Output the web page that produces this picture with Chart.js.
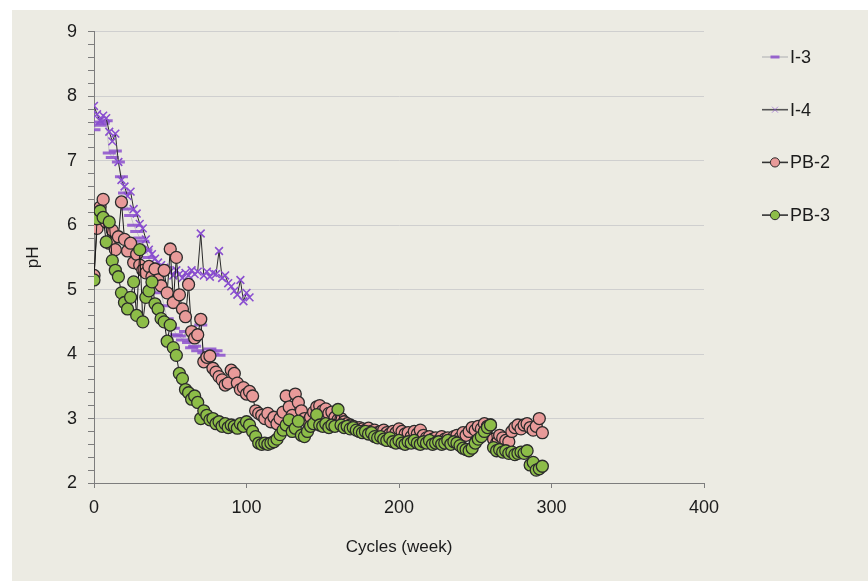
<!DOCTYPE html>
<html>
<head>
<meta charset="utf-8">
<title>pH vs cycles</title>
<script src="https://cdn.jsdelivr.net/npm/chart.js"></script>
<style>
    html, body { margin: 0; padding: 0; background: #ffffff; }
    #wrap { position: absolute; left: 12px; top: 10px; width: 856px; height: 571px; background: #ecebe3; }
</style>
</head>
<body>
<div id="wrap"><canvas id="ph-chart"></canvas></div>
<script>

const i3_weeks = [ 0, 2, 4, 6, 8, 10, 12, 14, 16, 18, 20, 22, 24, 26, 28, 30, 32, 34, 36, 38,
    40, 42, 44, 46, 48, 50, 52, 54, 56, 58, 60, 62, 64, 66, 68, 70, 72, 74, 76, 78, 80, 82 ];
const i3_ph = [ 7.48, 7.60, 7.55, 7.58, 7.62, 7.12, 7.05, 7.15, 6.98, 6.75,
    6.50, 6.25, 6.15, 6.00, 5.90, 5.80, 5.75, 5.62, 5.50, 5.40,
    5.20, 5.05, 4.95, 4.75, 4.55, 4.45, 4.40, 4.30, 4.28, 4.22,
    4.35, 4.18, 4.10, 4.12, 4.05, 4.45, 4.02, 3.98, 4.08, 4.00,
    4.05, 3.98 ];

const i4_weeks = [ 0, 2, 4, 6, 8, 10, 12, 14, 16, 18, 20, 22, 24, 26, 28, 30, 32, 34, 36, 38,
    40, 42, 44, 46, 48, 50, 52, 54, 56, 58, 60, 62, 64, 66, 68, 70, 72, 74, 76, 78,
    80, 82, 84, 86, 88, 90, 92, 94, 96, 98, 100, 102 ];
const i4_ph = [ 7.85, 7.72, 7.62, 7.70, 7.66, 7.45, 7.30, 7.42, 6.98, 6.70,
    6.60, 6.45, 6.52, 6.25, 6.18, 6.02, 5.95, 5.78, 5.62, 5.55,
    5.48, 5.42, 5.38, 5.34, 5.30, 5.28, 5.22, 5.30, 5.24, 5.18,
    5.26, 5.22, 5.30, 5.24, 5.28, 5.87, 5.22, 5.28, 5.20, 5.26,
    5.24, 5.60, 5.18, 5.22, 5.10, 5.05, 4.98, 4.92, 5.15, 4.82,
    4.95, 4.88 ];

const pb_weeks = [ 0, 2, 4, 6, 8, 10, 12, 14, 16, 18, 20, 22, 24, 26, 28, 30, 32, 34, 36, 38,
    40, 42, 44, 46, 48, 50, 52, 54, 56, 58, 60, 62, 64, 66, 68, 70, 72, 74, 76, 78,
    80, 82, 84, 86, 88, 90, 92, 94, 96, 98, 100, 102, 104, 106, 108, 110, 112, 114, 116, 118,
    120, 122, 124, 126, 128, 130, 132, 134, 136, 138, 140, 142, 144, 146, 148, 150, 152, 154, 156, 158,
    160, 162, 164, 166, 168, 170, 172, 174, 176, 178, 180, 182, 184, 186, 188, 190, 192, 194, 196, 198,
    200, 202, 204, 206, 208, 210, 212, 214, 216, 218, 220, 222, 224, 226, 228, 230, 232, 234, 236, 238,
    240, 242, 244, 246, 248, 250, 252, 254, 256, 258, 260, 262, 264, 266, 268, 270, 272, 274, 276, 278,
    280, 282, 284, 286, 288, 290, 292, 294 ];

const pb2_ph = [ 5.22, 5.95, 6.28, 6.40, 6.05, 5.72, 5.92, 5.62, 5.82, 6.36,
    5.78, 5.60, 5.72, 5.42, 5.55, 5.38, 5.30, 5.26, 5.36, 5.20,
    5.32, 5.15, 5.06, 5.30, 4.95, 5.63, 4.80, 5.50, 4.92, 4.70,
    4.58, 5.08, 4.35, 4.25, 4.30, 4.54, 3.88, 3.95, 3.97, 3.78,
    3.72, 3.65, 3.60, 3.52, 3.55, 3.75, 3.70, 3.55, 3.45, 3.48,
    3.38, 3.42, 3.35, 3.12, 3.08, 3.05, 3.00, 3.08, 2.95, 3.02,
    2.92, 3.00, 3.10, 3.35, 3.18, 3.05, 3.38, 3.25, 3.12, 3.00,
    2.95, 3.02, 3.10, 3.18, 3.20, 3.12, 3.15, 3.08, 3.10, 3.02,
    2.98, 3.00, 2.95, 2.92, 2.90, 2.88, 2.85, 2.86, 2.84, 2.82,
    2.85, 2.80, 2.82, 2.78, 2.80, 2.82, 2.78, 2.76, 2.80, 2.78,
    2.84, 2.80, 2.76, 2.78, 2.72, 2.80, 2.76, 2.82, 2.74, 2.70,
    2.72, 2.68, 2.70, 2.66, 2.72, 2.68, 2.70, 2.66, 2.72, 2.74,
    2.70, 2.78, 2.74, 2.80, 2.86, 2.82, 2.88, 2.84, 2.92, 2.88,
    2.90, 2.68, 2.62, 2.74, 2.70, 2.66, 2.64, 2.80, 2.86, 2.90,
    2.84, 2.90, 2.92, 2.86, 2.82, 2.88, 3.00, 2.78 ];

const pb3_ph = [ 5.15, 6.10, 6.22, 6.12, 5.74, 6.05, 5.45, 5.30, 5.20, 4.95,
    4.80, 4.70, 4.88, 5.12, 4.60, 5.62, 4.50, 4.88, 4.98, 5.12,
    4.78, 4.70, 4.55, 4.50, 4.20, 4.45, 4.10, 3.98, 3.70, 3.62,
    3.45, 3.40, 3.30, 3.35, 3.25, 3.00, 3.12, 3.05, 2.98, 3.00,
    2.92, 2.95, 2.88, 2.92, 2.86, 2.90, 2.88, 2.85, 2.92, 2.88,
    2.95, 2.90, 2.80, 2.72, 2.62, 2.60, 2.62, 2.60, 2.62, 2.64,
    2.68, 2.75, 2.82, 2.90, 2.98, 2.80, 2.85, 2.96, 2.74, 2.72,
    2.80, 2.88, 2.92, 3.06, 2.90, 2.88, 2.92, 2.86, 2.90, 2.88,
    3.14, 2.90, 2.86, 2.88, 2.84, 2.86, 2.82, 2.80, 2.78, 2.80,
    2.76, 2.78, 2.72, 2.70, 2.72, 2.68, 2.66, 2.70, 2.64, 2.62,
    2.66, 2.62, 2.60, 2.64, 2.62, 2.66, 2.62, 2.60, 2.64, 2.62,
    2.66, 2.60, 2.62, 2.64, 2.60, 2.62, 2.66, 2.60, 2.64, 2.62,
    2.58, 2.54, 2.52, 2.50, 2.54, 2.62, 2.68, 2.72, 2.80, 2.86,
    2.90, 2.55, 2.50, 2.52, 2.48, 2.50, 2.46, 2.48, 2.44, 2.46,
    2.48, 2.46, 2.50, 2.28, 2.32, 2.20, 2.22, 2.26 ];

const y_ticks = [ 2, 3, 4, 5, 6, 7, 8, 9 ];
const x_ticks = [ 0, 100, 200, 300, 400 ];

const font_family = '"Liberation Sans", Arial, sans-serif',
      text_color = '#1c1c1c',
      axis_color = '#7d7d7d';

/**
 * pair week and pH lists into scatter points
 * @param {Array} weeks x values
 * @param {Array} values y values
 * @returns point list
 */
function chart_points( weeks, values ) {

    return weeks.map( ( w, i ) => ( { x: w, y: values[ i ] } ) );

};

/**
 * true for whole pH units
 * @param {Float} v tick value
 */
function is_major( v ) {

    return Math.abs( v - Math.round( v ) ) < 1e-6;

};

/**
 * draw a legend marker
 * @param {Object} ctx canvas context
 * @param {Object} ds dataset
 * @param {Float} x center x
 * @param {Float} y center y
 */
function legend_marker( ctx, ds, x, y ) {

    ctx.save();
    ctx.strokeStyle = ds.pointBorderColor;
    ctx.fillStyle = ds.pointBackgroundColor || ds.pointBorderColor;

    if( ds.pointStyle === 'circle' ) {

        ctx.lineWidth = 1;
        ctx.beginPath();
        ctx.arc( x, y, 4.6, 0, Math.PI * 2 );
        ctx.fill();
        ctx.stroke();

    } else if( ds.pointStyle === 'line' ) {

        ctx.lineWidth = 3;
        ctx.beginPath();
        ctx.moveTo( x - 4.5, y );
        ctx.lineTo( x + 4.5, y );
        ctx.stroke();

    } else {

        ctx.lineWidth = 1;
        ctx.globalAlpha = 0.6;
        ctx.beginPath();
        ctx.moveTo( x - 3, y - 3 ); ctx.lineTo( x + 3, y + 3 );
        ctx.moveTo( x - 3, y + 3 ); ctx.lineTo( x + 3, y - 3 );
        ctx.stroke();

    }

    ctx.restore();

};

// legend on the right: short line with the marker in its middle, then the name
const side_legend = {
    id: 'side_legend',
    afterDraw( chart ) {

        let ctx = chart.ctx;

        chart.data.datasets.forEach( ( ds, i ) => {

            let y = 47 + i * 52.7,
                x = 750;

            ctx.save();
            ctx.strokeStyle = ds.legendLine;
            ctx.lineWidth = 1.6;
            ctx.beginPath();
            ctx.moveTo( x, y );
            ctx.lineTo( x + 26, y );
            ctx.stroke();
            ctx.restore();

            legend_marker( ctx, ds, x + 13, y );

            ctx.save();
            ctx.fillStyle = text_color;
            ctx.font = '18px ' + font_family;
            ctx.textBaseline = 'middle';
            ctx.textAlign = 'left';
            ctx.fillText( ds.label, x + 28, y + 1 );
            ctx.restore();

        } );

    }
};

document.addEventListener( 'DOMContentLoaded', () => {

    let ctx = document.getElementById( 'ph-chart' ).getContext( '2d' );

    new Chart( ctx, {
        type: 'scatter',
        data: {
            datasets: [ {
                label: 'I-3',
                data: chart_points( i3_weeks, i3_ph ),
                showLine: true,
                order: 4,
                borderColor: '#c4c4c4',
                borderWidth: 1,
                legendLine: '#c4c4c4',
                pointStyle: 'line',
                pointRadius: 6.5,
                pointHoverRadius: 6.5,
                pointBorderWidth: 3,
                pointBorderColor: 'rgba( 140 80 205 / 0.85 )'
            }, {
                label: 'I-4',
                data: chart_points( i4_weeks, i4_ph ),
                showLine: true,
                order: 3,
                borderColor: '#2a2a2a',
                borderWidth: 1,
                legendLine: '#555555',
                pointStyle: 'crossRot',
                pointRadius: 5.5,
                pointHoverRadius: 5.5,
                pointBorderWidth: 1.6,
                pointBorderColor: '#8a4fd0'
            }, {
                label: 'PB-2',
                data: chart_points( pb_weeks, pb2_ph ),
                showLine: true,
                order: 2,
                borderColor: '#1a1a1a',
                borderWidth: 1,
                legendLine: '#333333',
                pointStyle: 'circle',
                pointRadius: 6,
                pointHoverRadius: 6,
                pointBorderWidth: 1.3,
                pointBorderColor: '#2b2b2b',
                pointBackgroundColor: '#e89a99'
            }, {
                label: 'PB-3',
                data: chart_points( pb_weeks, pb3_ph ),
                showLine: true,
                order: 1,
                borderColor: '#1a1a1a',
                borderWidth: 1,
                legendLine: '#333333',
                pointStyle: 'circle',
                pointRadius: 6,
                pointHoverRadius: 6,
                pointBorderWidth: 1.3,
                pointBorderColor: '#2b2b2b',
                pointBackgroundColor: '#8dbd48'
            } ]
        },
        options: {
            responsive: true,
            maintainAspectRatio: false,
            animation: false,
            events: [],
            layout: {
                padding: { top: 18, right: 164, left: 0, bottom: 0 }
            },
            plugins: {
                legend: { display: false },
                tooltip: { enabled: false }
            },
            scales: {
                x: {
                    type: 'linear',
                    min: x_ticks[0],
                    max: x_ticks[ x_ticks.length - 1 ],
                    afterFit: ( s ) => { s.height = 98; },
                    afterBuildTicks: ( s ) => { s.ticks = x_ticks.map( v => ( { value: v } ) ); },
                    border: { color: axis_color, width: 1 },
                    grid: {
                        drawOnChartArea: false,
                        tickLength: 5,
                        tickColor: axis_color
                    },
                    ticks: {
                        padding: 9,
                        color: text_color,
                        font: { family: font_family, size: 18 }
                    },
                    title: {
                        display: true,
                        text: 'Cycles (week)',
                        color: text_color,
                        font: { family: font_family, size: 17 },
                        padding: { top: 0, bottom: 23 }
                    }
                },
                y: {
                    min: y_ticks[0],
                    max: y_ticks[ y_ticks.length - 1 ],
                    afterFit: ( s ) => { s.width = 82; },
                    border: { color: axis_color, width: 1 },
                    grid: {
                        color: ( c ) => is_major( c.tick.value ) ? '#cfcfcf' : 'rgba( 0 0 0 / 0 )',
                        lineWidth: 1,
                        tickLength: 6,
                        tickColor: axis_color
                    },
                    ticks: {
                        stepSize: 0.2,
                        autoSkip: false,
                        padding: 11,
                        color: text_color,
                        font: { family: font_family, size: 18 },
                        callback: ( value ) => is_major( value ) ? value : ''
                    },
                    title: {
                        display: true,
                        text: 'pH',
                        color: text_color,
                        font: { family: font_family, size: 17 },
                        padding: { top: 11, bottom: 0 }
                    }
                }
            }
        },
        plugins: [ side_legend ]
    } );

} );

</script>
</body>
</html>
